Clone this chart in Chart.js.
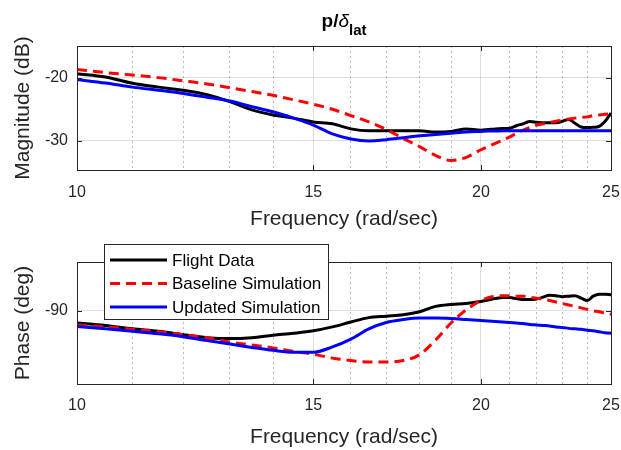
<!DOCTYPE html>
<html>
<head>
<meta charset="utf-8">
<script src="https://cdn.jsdelivr.net/npm/chart.js@4.4.1/dist/chart.umd.min.js"></script>
<style>
  body { margin: 0; background: #fff; width: 621px; height: 450px; position: relative; overflow: hidden; }
  canvas { position: absolute; left: 0; }
  #magChart { top: 0; }
  #phaseChart { top: 225px; }
</style>
</head>
<body>
<canvas id="magChart" width="621" height="232"></canvas>
<canvas id="phaseChart" width="621" height="225"></canvas>
<script>
// frequency points (rad/sec)
const freq = [10, 10.5, 11, 11.5, 12, 12.5, 13, 13.5, 14, 14.5, 15, 15.5, 16, 16.5, 17, 17.5, 18, 18.5, 19, 19.5,
  20, 20.25, 20.5, 20.75, 21, 21.25, 21.5, 21.75, 22, 22.25, 22.5, 22.75, 23, 23.25, 23.5, 23.75, 24, 24.25, 24.5, 24.75, 25];

const seriesNames = ["Flight Data", "Baseline Simulation", "Updated Simulation"];

// magnitude (dB)
const magFlight = [-19.4, -19.9, -20.9, -21.5, -22.0, -22.7, -23.8, -25.1, -25.9, -26.4, -27.0, -27.3, -28.1, -28.4, -28.4, -28.4, -28.4, -28.6, -28.5, -28.1,
  -28.3, -28.2, -28.1, -28.05, -28.0, -27.6, -27.3, -26.95, -27.05, -27.15, -27.15, -27.15, -26.9, -26.6, -27.2, -27.8, -27.9, -27.85, -27.7, -26.9, -25.6];
const magBaseline = [-18.7, -19.2, -19.6, -20.0, -20.5, -21.0, -21.6, -22.2, -22.8, -23.5, -24.2, -25.0, -26.0, -27.0, -28.2, -29.6, -30.9, -32.3, -33.1, -32.6,
  -31.4, -30.9, -30.4, -29.9, -29.4, -28.8, -28.3, -27.9, -27.5, -27.3, -27.1, -26.9, -26.7, -26.55, -26.4, -26.3, -26.2, -26.0, -25.9, -25.8, -25.7];
const magUpdated = [-20.3, -20.85, -21.5, -22.0, -22.5, -23.1, -23.7, -24.6, -25.4, -26.4, -27.5, -28.9, -29.7, -30.0, -29.8, -29.5, -29.2, -29.0, -28.8, -28.6,
  -28.5, -28.45, -28.45, -28.4, -28.4, -28.4, -28.4, -28.4, -28.4, -28.4, -28.4, -28.4, -28.4, -28.4, -28.4, -28.4, -28.4, -28.4, -28.4, -28.4, -28.4];

// phase (deg)
const phaseFlight = [-92.5, -93.0, -93.7, -94.2, -94.9, -95.5, -95.7, -95.5, -95.0, -94.6, -94.1, -93.3, -92.3, -91.4, -91.1, -90.8, -90.2, -89.1, -88.7, -88.5,
  -88.1, -87.8, -87.5, -87.3, -87.3, -87.5, -87.7, -87.7, -87.6, -87.2, -86.8, -86.9, -87.1, -87.0, -86.9, -87.4, -87.9, -87.0, -86.6, -86.6, -86.7];
const phaseBaseline = [-92.9, -93.3, -93.8, -94.3, -94.9, -95.5, -96.4, -97.0, -97.6, -98.3, -98.9, -99.7, -100.2, -100.5, -100.5, -100.2, -99.0, -96.0, -92.5, -89.8,
  -87.9, -87.3, -87.0, -86.9, -86.9, -87.0, -87.0, -87.2, -87.4, -87.6, -87.9, -88.2, -88.5, -88.8, -89.1, -89.4, -89.7, -90.0, -90.2, -90.5, -90.7];
const phaseUpdated = [-93.2, -93.7, -94.2, -94.7, -95.3, -96.1, -96.8, -97.5, -98.1, -98.5, -98.5, -97.4, -95.8, -93.7, -92.4, -91.8, -91.5, -91.5, -91.6, -91.8,
  -92.0, -92.1, -92.2, -92.3, -92.4, -92.5, -92.6, -92.8, -92.9, -93.0, -93.1, -93.3, -93.4, -93.6, -93.7, -93.8, -94.0, -94.1, -94.3, -94.5, -94.6];

// ticks
const freqGrid = [10, 11, 12, 13, 14, 15, 16, 17, 18, 19, 20, 21, 22, 23, 24, 25];
const freqTicks = [10, 15, 20, 25];
const magTicks = [-30, -20];
const phaseTicks = [-90];

const FONT = "'Liberation Sans', Arial, Helvetica, sans-serif";
const TXT = "#262626";
Chart.defaults.font.family = FONT;
Chart.defaults.color = TXT;

function series(vals, color, dash, order) {
  return {
    data: freq.map((f, i) => ({ x: f, y: vals[i] })),
    borderColor: color,
    borderWidth: 3,
    borderDash: dash,
    pointRadius: 0,
    fill: false,
    cubicInterpolationMode: "monotone",
    order: order,
  };
}

function xAxis(h, pad) {
  return {
    type: "logarithmic",
    min: 10,
    max: 25,
    afterBuildTicks: (s) => { s.ticks = freqGrid.map((v) => ({ value: v })); },
    afterFit: (s) => { s.height = h; s.paddingLeft = 0; s.paddingRight = 0; },
    ticks: {
      autoSkip: false,
      maxRotation: 0,
      padding: pad,
      font: { size: 16 },
      color: TXT,
      callback: (v) => (freqTicks.includes(v) ? String(v) : ""),
    },
    grid: {
      drawTicks: false,
      lineWidth: 1,
      color: (c) => {
        const v = c.tick ? c.tick.value : 0;
        if (v === 10 || v === 25) return "rgba(0,0,0,0)";
        return freqTicks.includes(v) ? "rgba(38,38,38,0.15)" : "rgba(38,38,38,0.3)";
      },
    },
    border: {
      display: false,
      dash: (c) => (c.tick && !freqTicks.includes(c.tick.value) ? [2, 3] : []),
    },
    title: { display: true, text: "Frequency (rad/sec)", font: { size: 21 }, color: TXT, padding: 0 },
  };
}

function yAxis(min, max, ticks, label) {
  return {
    min: min,
    max: max,
    afterBuildTicks: (s) => { s.ticks = ticks.map((v) => ({ value: v })); },
    afterFit: (s) => { s.width = 77; },
    ticks: { padding: 9, font: { size: 16 }, color: TXT },
    grid: { drawTicks: false, color: "rgba(38,38,38,0.15)" },
    border: { display: false },
    title: { display: true, text: label, font: { size: 21 }, color: TXT, padding: { top: 11, bottom: 0 } },
  };
}

// axes box with small inward ticks, like the original
const boxPlugin = {
  id: "box",
  afterDatasetsDraw(chart) {
    const { ctx, chartArea: a, scales } = chart;
    ctx.save();
    ctx.strokeStyle = TXT;
    ctx.lineWidth = 1;
    ctx.setLineDash([]);
    ctx.beginPath();
    freqTicks.forEach((v) => {
      const px = Math.round(scales.x.getPixelForValue(v)) + 0.5;
      ctx.moveTo(px, a.bottom); ctx.lineTo(px, a.bottom - 5);
      ctx.moveTo(px, a.top); ctx.lineTo(px, a.top + 5);
    });
    scales.y.ticks.forEach((t) => {
      const py = Math.round(scales.y.getPixelForValue(t.value)) + 0.5;
      ctx.moveTo(a.left, py); ctx.lineTo(a.left + 5, py);
      ctx.moveTo(a.right, py); ctx.lineTo(a.right - 5, py);
    });
    ctx.stroke();
    ctx.strokeRect(Math.round(a.left) + 0.5, Math.round(a.top) + 0.5, Math.round(a.right - a.left), Math.round(a.bottom - a.top));
    ctx.restore();
  },
};

const titlePlugin = {
  id: "titleText",
  afterDraw(chart) {
    const { ctx, chartArea: a } = chart;
    const parts = [
      { t: "p/", f: "bold 19px " + FONT, y: 27 },
      { t: "\u03b4", f: "italic 19px " + FONT, y: 27 },
      { t: "lat", f: "bold 15px " + FONT, y: 35 },
    ];
    ctx.save();
    let total = 0;
    parts.forEach((p) => { ctx.font = p.f; p.w = ctx.measureText(p.t).width; total += p.w; });
    let x = (a.left + a.right) / 2 - total / 2;
    ctx.fillStyle = "#000";
    ctx.textBaseline = "alphabetic";
    ctx.textAlign = "left";
    parts.forEach((p) => { ctx.font = p.f; ctx.fillText(p.t, x, p.y); x += p.w; });
    ctx.restore();
  },
};

const legendPlugin = {
  id: "boxLegend",
  afterDraw(chart) {
    const ctx = chart.ctx;
    const rows = [35, 58.5, 82];
    ctx.save();
    ctx.fillStyle = "#fff";
    ctx.fillRect(104.5, 19.5, 224, 75);
    ctx.strokeStyle = TXT;
    ctx.lineWidth = 1;
    ctx.strokeRect(104.5, 19.5, 224, 75);
    chart.data.datasets.forEach((ds, i) => {
      ctx.strokeStyle = ds.borderColor;
      ctx.lineWidth = ds.borderWidth;
      ctx.setLineDash(ds.borderDash || []);
      ctx.beginPath();
      ctx.moveTo(110, rows[i]);
      ctx.lineTo(167, rows[i]);
      ctx.stroke();
      ctx.setLineDash([]);
      ctx.fillStyle = "#000";
      ctx.font = "17px " + FONT;
      ctx.textBaseline = "middle";
      ctx.fillText(seriesNames[i], 172, rows[i] + 1);
    });
    ctx.restore();
  },
};

function makeChart(id, vals, yMin, yMax, yTicks, yLabel, padTop, xH, xPad, extra) {
  return new Chart(document.getElementById(id), {
    type: "line",
    data: {
      datasets: [
        series(vals[0], "#000000", [], 3),
        series(vals[1], "#ff0000", [10, 6], 2),
        series(vals[2], "#0000ff", [], 1),
      ],
    },
    options: {
      responsive: false,
      animation: false,
      devicePixelRatio: 1,
      layout: { padding: { top: padTop, right: 10, left: 0, bottom: 0 } },
      scales: { x: xAxis(xH, xPad), y: yAxis(yMin, yMax, yTicks, yLabel) },
      plugins: { legend: { display: false }, tooltip: { enabled: false } },
    },
    plugins: [boxPlugin].concat(extra),
  });
}

makeChart("magChart", [magFlight, magBaseline, magUpdated], -34.6, -15, magTicks, "Magnitude (dB)", 46, 62, 13, [titlePlugin]);
makeChart("phaseChart", [phaseFlight, phaseBaseline, phaseUpdated], -105, -80, phaseTicks, "Phase (deg)", 37, 66, 12, [legendPlugin]);
</script>
</body>
</html>
